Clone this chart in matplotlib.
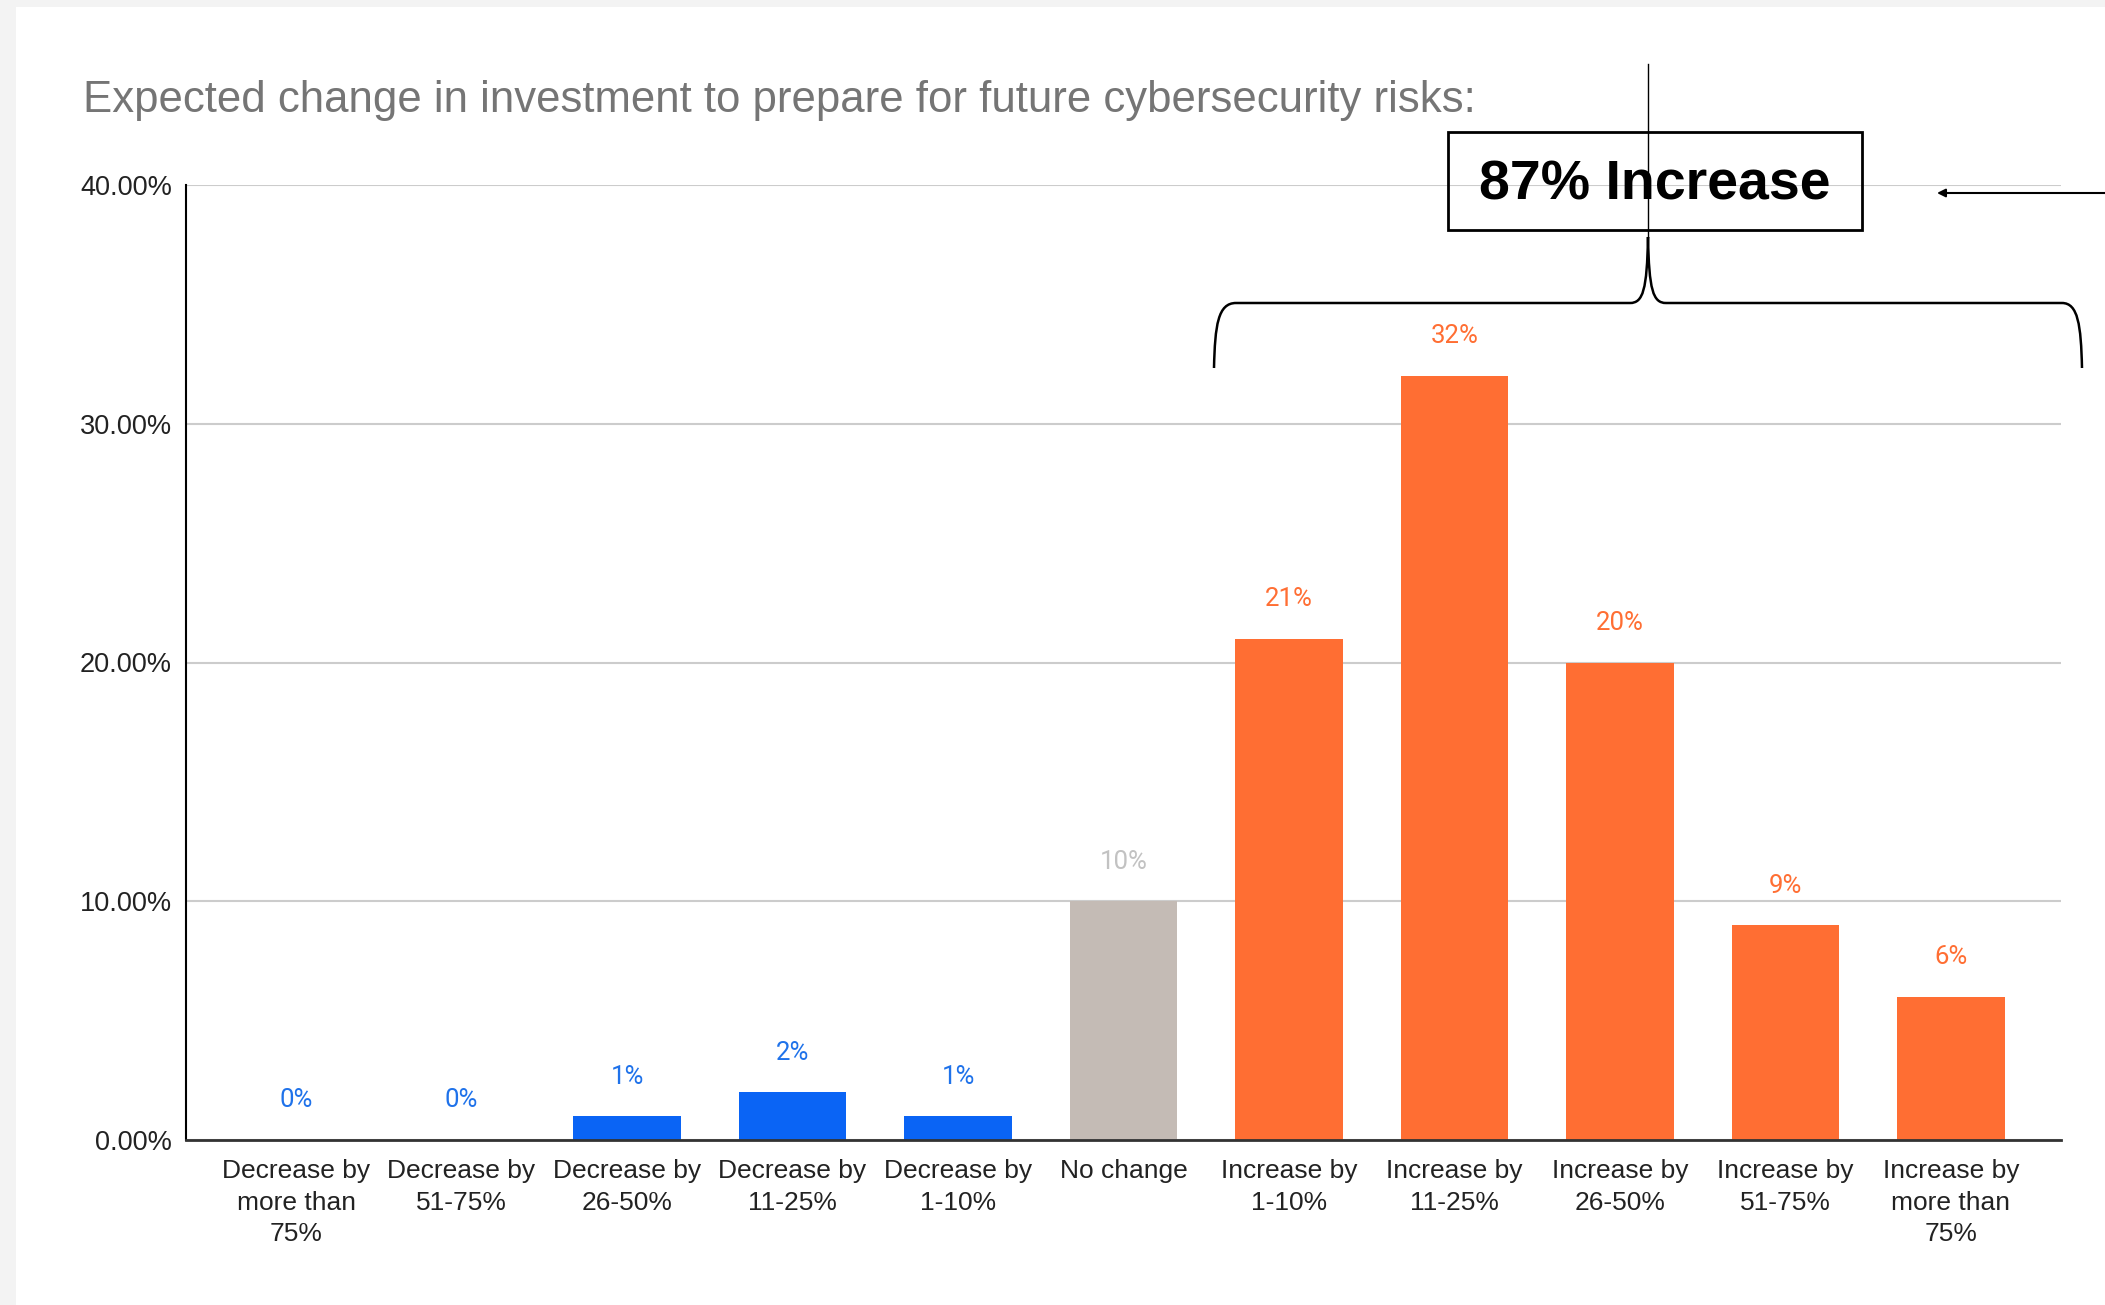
import matplotlib
matplotlib.use("Agg")
import matplotlib.pyplot as plt
from matplotlib.path import Path
from matplotlib.patches import PathPatch, Rectangle

categories = [
    "Decrease by\nmore than\n75%", "Decrease by\n51-75%", "Decrease by\n26-50%",
    "Decrease by\n11-25%", "Decrease by\n1-10%", "No change",
    "Increase by\n1-10%", "Increase by\n11-25%", "Increase by\n26-50%",
    "Increase by\n51-75%", "Increase by\nmore than\n75%",
]
values = [0, 0, 1, 2, 1, 10, 21, 32, 20, 9, 6]
groups = ["dec"] * 5 + ["none"] + ["inc"] * 5
yticks = [0, 10, 20, 30, 40]
callout_text = "87% Increase"

bar_colors = {"dec": "#0a64f5", "none": "#c4bbb5", "inc": "#ff6e33"}
label_colors = {"dec": "#1f72ea", "none": "#c2c2c2", "inc": "#ff6e33"}

W, H = 2105, 1305
fig = plt.figure(figsize=(W / 100, H / 100), dpi=100)
fig.patch.set_facecolor("#f3f3f3")

# white card
card = fig.add_axes([16 / W, 0, 1 - 16 / W, 1 - 7 / H])
card.set_facecolor("white")
card.set_axis_off()
card.add_patch(Rectangle((0, 0), 1, 1, facecolor="white", edgecolor="none",
                         transform=card.transAxes))

ax = fig.add_axes([186 / W, 1 - 1140 / H, (2061 - 186) / W, (1140 - 185) / H])
ax.set_facecolor("none")
x = list(range(len(values)))
ax.bar(x, values, width=0.65, color=[bar_colors[g] for g in groups], zorder=3)
for xi, v, g in zip(x, values, groups):
    ax.annotate(f"{v}%", (xi, v), xytext=(0, 28.5), textcoords="offset points",
                ha="center", va="center", fontsize=18.5, family="Roboto",
                color=label_colors[g])

ax.set_xlim(-0.665, len(values) - 1 + 0.665)
ax.set_ylim(0, 40)
ax.set_yticks(yticks)
ax.set_yticklabels([f"{t:.2f}%" for t in yticks])
ax.set_xticks(x)
ax.set_xticklabels(categories, linespacing=1.38)
ax.tick_params(axis="both", length=0, labelcolor="#222222")
ax.tick_params(axis="y", pad=10, labelsize=19.5)
ax.tick_params(axis="x", pad=14, labelsize=19)
for lab in ax.get_xticklabels() + ax.get_yticklabels():
    lab.set_family("Liberation Sans")
ax.grid(axis="y", color="#cccccc", linewidth=1.5, zorder=0)
for s in ["top", "right"]:
    ax.spines[s].set_visible(False)
ax.spines["left"].set_color("black")
ax.spines["left"].set_linewidth(1.5)
ax.spines["bottom"].set_color("#333333")
ax.spines["bottom"].set_linewidth(2)
ax.spines["bottom"].set_zorder(4)

fig.text(83 / W, 1 - 112 / H,
         "Expected change in investment to prepare for future cybersecurity risks:",
         fontsize=31.5, family="Liberation Sans", color="#757575", va="baseline")

# overlay in pixel coordinates for the callout
ov = fig.add_axes([0, 0, 1, 1])
ov.set_xlim(0, W)
ov.set_ylim(H, 0)
ov.set_axis_off()
ov.patch.set_alpha(0)

ov.add_patch(Rectangle((1448, 132), 414, 98, facecolor="none",
                       edgecolor="black", linewidth=2))
ov.text(1655, 186, callout_text, ha="center", va="center",
        fontsize=40, fontweight="bold", family="Liberation Sans", color="black")
ov.plot([1648, 1648], [64, 237], color="black", linewidth=1)

verts = [(1214, 368), (1215, 325), (1218, 303), (1236, 303),
         (1630, 303),
         (1643, 303), (1647, 290), (1648, 237),
         (1649, 290), (1653, 303), (1666, 303),
         (2062, 303),
         (2078, 303), (2081, 325), (2082, 368)]
codes = [Path.MOVETO, Path.CURVE4, Path.CURVE4, Path.CURVE4,
         Path.LINETO,
         Path.CURVE4, Path.CURVE4, Path.CURVE4,
         Path.CURVE4, Path.CURVE4, Path.CURVE4,
         Path.LINETO,
         Path.CURVE4, Path.CURVE4, Path.CURVE4]
ov.add_patch(PathPatch(Path(verts, codes), facecolor="none",
                       edgecolor="black", linewidth=1.8))

ov.annotate("", xy=(1937, 193), xytext=(2105, 193),
            arrowprops=dict(arrowstyle="-|>", color="black", lw=1.5,
                            mutation_scale=12, shrinkA=0, shrinkB=0))

fig.savefig("out.png", dpi=100)
